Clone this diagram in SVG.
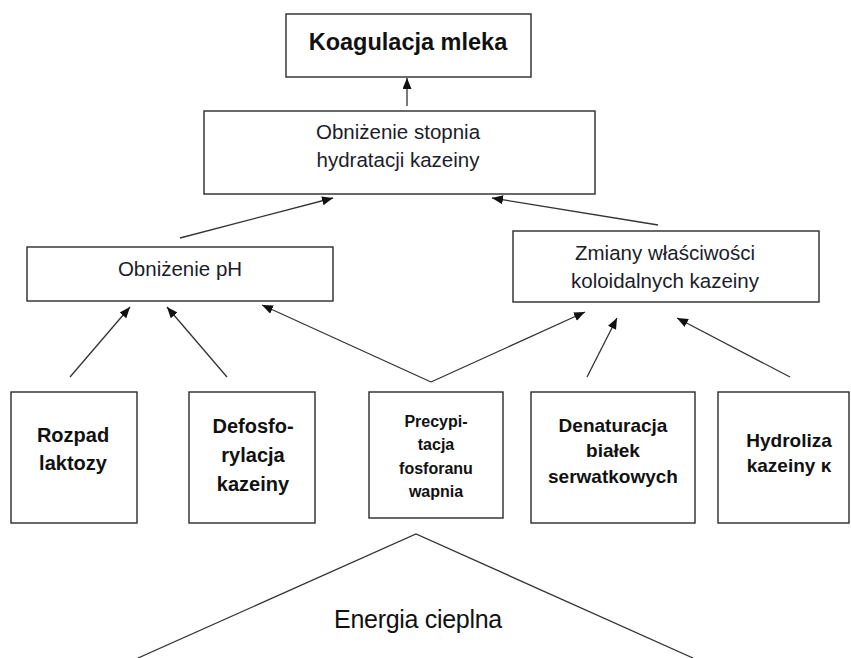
<svg xmlns="http://www.w3.org/2000/svg" width="851" height="658" viewBox="0 0 851 658">
<defs>
<style>
.box{fill:#fff;stroke:#2a2a2a;stroke-width:1.4}
.reg{font-family:"Liberation Sans",Arial,sans-serif;font-size:20.5px;fill:#1c1c2a;text-anchor:middle}
.bold{font-family:"Liberation Sans",Arial,sans-serif;font-weight:bold;fill:#111;text-anchor:middle}
.ln{stroke:#333;stroke-width:1.3;fill:none}
.arr{marker-end:url(#ah)}
</style>
<marker id="ah" markerUnits="userSpaceOnUse" markerWidth="12" markerHeight="10" refX="11" refY="4.5" orient="auto">
<path d="M0,0 L11,4.5 L0,9 z" fill="#111"/>
</marker>
</defs>
<rect width="851" height="658" fill="#fff"/>

<g id="connectors">
<line class="ln arr" x1="407" y1="106" x2="407" y2="78"/>
<line class="ln arr" x1="180" y1="238" x2="333" y2="198"/>
<line class="ln arr" x1="658" y1="225" x2="492" y2="198"/>
<line class="ln arr" x1="70" y1="377" x2="130" y2="307"/>
<line class="ln arr" x1="227" y1="377" x2="167" y2="307"/>
<line class="ln arr" x1="431" y1="382" x2="262" y2="305"/>
<line class="ln arr" x1="431" y1="382" x2="585" y2="312"/>
<line class="ln arr" x1="587" y1="377" x2="617" y2="318"/>
<line class="ln arr" x1="790" y1="377" x2="677" y2="318"/>
</g>

<g id="koagulacja">
<rect class="box" x="286" y="14" width="245" height="63"/>
<text class="bold" x="408" y="50" font-size="23.5">Koagulacja mleka</text>
</g>

<g id="obnizenie-stopnia">
<rect class="box" x="204" y="111" width="391" height="83"/>
<text class="reg" x="398" y="139">Obniżenie stopnia</text>
<text class="reg" x="398" y="167">hydratacji kazeiny</text>
</g>

<g id="obnizenie-ph">
<rect class="box" x="27" y="247" width="306" height="54"/>
<text class="reg" x="180" y="276">Obniżenie pH</text>
</g>

<g id="zmiany">
<rect class="box" x="513" y="231" width="306" height="71"/>
<text class="reg" x="665" y="260">Zmiany właściwości</text>
<text class="reg" x="665" y="288">koloidalnych kazeiny</text>
</g>

<g id="rozpad">
<rect class="box" x="11" y="392" width="126" height="131"/>
<text class="bold" x="73" y="442" font-size="20">Rozpad</text>
<text class="bold" x="73" y="470" font-size="20">laktozy</text>
</g>

<g id="defosforylacja">
<rect class="box" x="189" y="392" width="126" height="131"/>
<text class="bold" x="253" y="433" font-size="20">Defosfo-</text>
<text class="bold" x="253" y="462" font-size="20">rylacja</text>
<text class="bold" x="253" y="491" font-size="20">kazeiny</text>
</g>

<g id="precypitacja">
<rect class="box" x="369" y="392" width="134" height="126"/>
<text class="bold" x="436" y="427" font-size="16">Precypi-</text>
<text class="bold" x="436" y="450" font-size="16">tacja</text>
<text class="bold" x="436" y="474" font-size="16">fosforanu</text>
<text class="bold" x="436" y="497" font-size="16">wapnia</text>
</g>

<g id="denaturacja">
<rect class="box" x="531" y="392" width="164" height="131"/>
<text class="bold" x="613" y="432" font-size="19">Denaturacja</text>
<text class="bold" x="613" y="457" font-size="19">białek</text>
<text class="bold" x="613" y="483" font-size="19">serwatkowych</text>
</g>

<g id="hydroliza">
<rect class="box" x="718" y="392" width="131" height="131"/>
<text class="bold" x="789" y="447" font-size="19">Hydroliza</text>
<text class="bold" x="789" y="472" font-size="19">kazeiny κ</text>
</g>

<g id="energia">
<polyline class="ln" points="138,658 416,534 693,658"/>
<text x="418" y="628" font-family="'Liberation Sans',Arial,sans-serif" font-size="25" letter-spacing="-0.3" fill="#111" text-anchor="middle">Energia cieplna</text>
</g>
</svg>
